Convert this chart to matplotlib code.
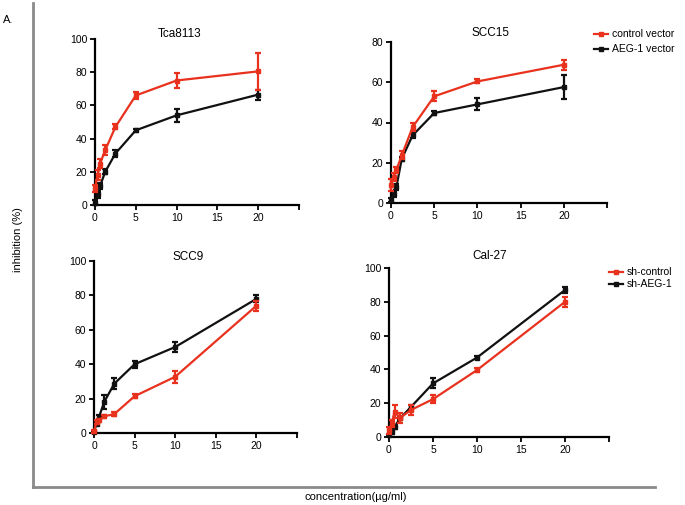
import numpy as np
import matplotlib
matplotlib.use('Agg')
import matplotlib.pyplot as plt
from matplotlib.lines import Line2D

plt.rcParams['font.family'] = ['Liberation Sans Narrow', 'Liberation Sans', 'DejaVu Sans']

W, H = 685, 505

# ДАННЫЕ

conc = [0, 0.3125, 0.625, 1.25, 2.5, 5, 10, 20]

tca_ctrl = [10, 18, 25, 33, 47, 66, 75, 80.5]
tca_ctrl_err = [2, 3, 3, 3, 1.5, 2, 4.5, 11]
tca_aeg = [1.5, 6.5, 11.5, 20, 31, 45, 54, 66.5]
tca_aeg_err = [1.5, 2, 2, 1.5, 2, 1, 4, 3]

scc15_ctrl = [9, 13, 16.5, 23.7, 37.7, 53, 60.4, 68.7]
scc15_ctrl_err = [3, 2, 1.5, 2, 2, 2.5, 1, 2.5]
scc15_aeg = [1.3, 4.6, 8, 22, 33.6, 44.7, 49, 57.6]
scc15_aeg_err = [1, 1.5, 1.5, 1, 1.5, 1, 3, 6]

scc9_ctrl = [1, 6.4, 7.4, 9.7, 11, 21.4, 32.7, 74]
scc9_ctrl_err = [1, 1, 1, 1, 1, 1, 3.5, 3]
scc9_sh = [0.6, 5.5, 9.4, 18, 28.7, 40, 50, 78]
scc9_sh_err = [0.5, 1, 1, 4, 3, 2, 3, 2]

cal_ctrl = [4, 8, 15, 11.3, 16, 22.4, 39.6, 80]
cal_ctrl_err = [2, 2, 4, 3, 3, 2.5, 1, 3]
cal_sh = [1, 3, 6, 11, 17.8, 31.7, 47, 87]
cal_sh_err = [0.5, 1, 1, 1, 1, 3, 1, 2]

xticks = [0, 5, 10, 15, 20, 25]
xticklabels = ['0', '5', '10', '15', '20', '']

RED = '#e8321e'
BLACK = '#111111'


def px_box(x0, y0, x1, y1):
    # пиксели картинки -> доли фигуры
    return [x0 / W, 1 - y1 / H, (x1 - x0) / W, (y1 - y0) / H]


def panel(fig, box, title, tpos, ymax, series):
    ax = fig.add_axes(px_box(*box))
    for y, err, color, z in series:
        h = ax.errorbar(conc, y, yerr=err, color=color, lw=1.6, marker='s', ms=3.2,
                        capsize=2.2, elinewidth=1.6, capthick=1.6, clip_on=False,
                        zorder=z)
        for a in [h.lines[0]] + list(h.lines[1]) + list(h.lines[2]):
            a.set_clip_on(False)
    ax.set_xlim(0, 25)
    ax.set_ylim(0, ymax)
    ax.set_xticks(xticks)
    ax.set_xticklabels(xticklabels)
    ax.set_yticks(np.arange(0, ymax + 1, 20))
    for s in ['top', 'right']:
        ax.spines[s].set_visible(False)
    for s in ['left', 'bottom']:
        ax.spines[s].set_linewidth(1.6)
    ax.tick_params(width=1.4, length=3.5, labelsize=7.5, pad=2, color=BLACK)
    ax.patch.set_alpha(0)
    fig.text(tpos[0] / W, 1 - tpos[1] / H, title, ha='center', va='center', fontsize=8.5)
    return ax


fig = plt.figure(figsize=(W / 100, H / 100), dpi=100)

panel(fig, (95, 39, 299, 205), 'Tca8113', (180, 34), 100,
      [(tca_aeg, tca_aeg_err, BLACK, 3), (tca_ctrl, tca_ctrl_err, RED, 4)])
panel(fig, (391, 42, 607, 203), 'SCC15', (490, 33), 80,
      [(scc15_aeg, scc15_aeg_err, BLACK, 3), (scc15_ctrl, scc15_ctrl_err, RED, 4)])
panel(fig, (94, 261, 297, 433), 'SCC9', (188, 257), 100,
      [(scc9_sh, scc9_sh_err, BLACK, 3), (scc9_ctrl, scc9_ctrl_err, RED, 4)])
panel(fig, (389, 268, 609, 437), 'Cal-27', (490, 256), 100,
      [(cal_sh, cal_sh_err, BLACK, 3), (cal_ctrl, cal_ctrl_err, RED, 4)])

leg_red = Line2D([], [], color=RED, lw=1.6, marker='s', ms=3)
leg_black = Line2D([], [], color=BLACK, lw=1.6, marker='s', ms=3)

fig.legend(handles=[leg_red, leg_black], labels=['control vector', 'AEG-1 vector'],
           loc='upper left', bbox_to_anchor=(590 / W, 1 - 25 / H), frameon=False,
           fontsize=7.5, handlelength=1.3, handletextpad=0.4, labelspacing=0.5,
           borderaxespad=0)
fig.legend(handles=[leg_red, leg_black], labels=['sh-control', 'sh-AEG-1'],
           loc='upper left', bbox_to_anchor=(605 / W, 1 - 263 / H), frameon=False,
           fontsize=7.5, handlelength=1.3, handletextpad=0.4, labelspacing=0.2,
           borderaxespad=0)

# рамка
fig.add_artist(Line2D([33 / W, 33 / W], [1 - 3 / H, 1 - 487 / H], color='#8a8a8a', lw=2))
fig.add_artist(Line2D([33 / W, 655 / W], [1 - 487 / H, 1 - 487 / H], color='#8a8a8a', lw=2))

fig.text(3 / W, 1 - 20 / H, 'A.', fontsize=8, va='center', ha='left')
fig.text(18 / W, 1 - 240 / H, 'inhibition (%)', rotation=90, fontsize=8,
         va='center', ha='center')
fig.text(356 / W, 1 - 497 / H, 'concentration(\u00b5g/ml)', fontsize=8,
         va='center', ha='center')

plt.savefig('out.png', dpi=100)
plt.close()
